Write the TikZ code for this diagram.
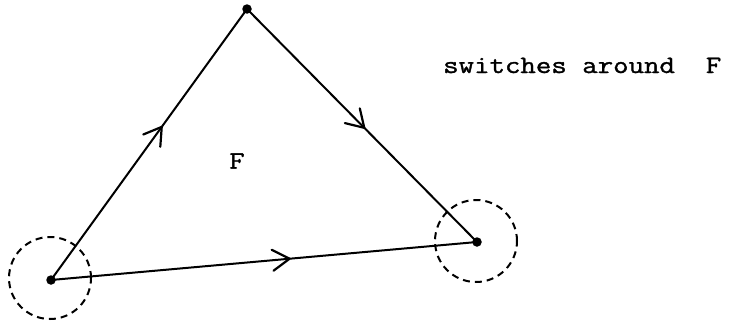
\documentclass[tikz,border=0pt]{standalone}
\usepackage{fontspec}
\setmonofont{Latin Modern Mono}[FakeBold=1.2]
\usetikzlibrary{decorations.markings}
\newcommand{\mybarb}{\draw[line width=2.2pt,line cap=round,line join=round] (-17pt,10.5pt) -- (0pt,0pt) -- (-17pt,-10.5pt);}
\tikzset{
  vtx/.style={circle,fill=black,inner sep=0pt,minimum size=9.5pt},
  edge/.style={line width=2pt},
  halo/.style={circle,draw,dash pattern=on 7pt off 5pt,line width=2pt,inner sep=0pt,minimum size=82pt},
  lbl/.style={inner sep=0pt,font=\ttfamily\fontsize{25}{25}\selectfont},
  arrowat/.style={postaction={decorate,decoration={markings,mark=at position #1 with {\mybarb}}}}
}
\begin{document}
\begin{tikzpicture}[x=1pt,y=-1pt]
\useasboundingbox (0,0) rectangle (735,324);
\node[vtx] (A) at (51,280) {};
\node[vtx] (B) at (247,9) {};
\node[vtx] (C) at (477,242) {};
\node[halo] (hA) at (50,278) {};
\node[halo] (hC) at (476,241) {};
\draw[edge,arrowat=0.565] (A.center) -- (B.center);
\draw[edge,arrowat=0.51] (B.center) -- (C.center);
\draw[edge,arrowat=0.56] (A.center) -- (C.center);
\node[lbl] (F) at (237,161) {\scalebox{1.2}[1]{F}};
\node[lbl,anchor=base west] (sw) at (443,73) {\scalebox{1.2}[1]{switches around~~F}};
\end{tikzpicture}
\end{document}
